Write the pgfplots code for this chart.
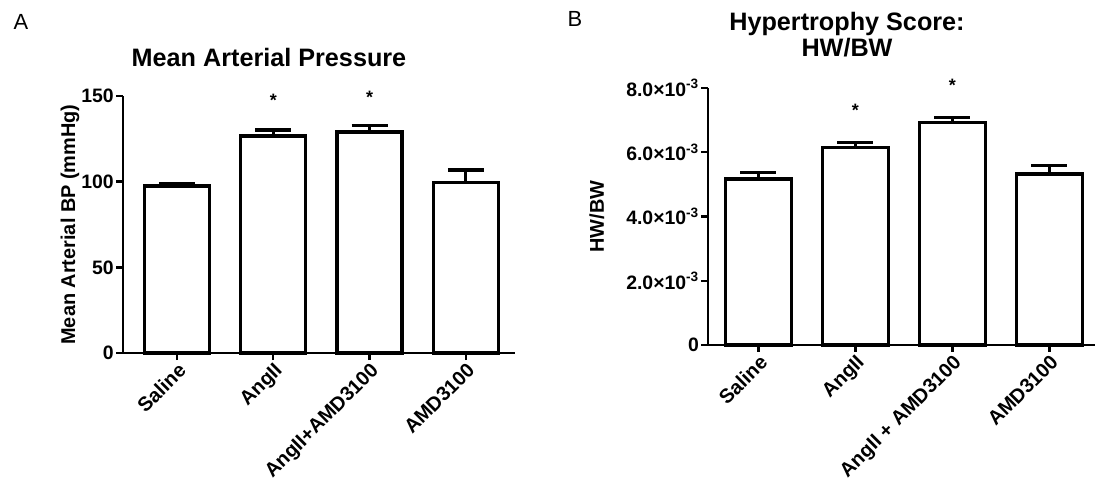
\documentclass[border=0pt]{standalone}
\usepackage{fontspec}
\setmainfont{Liberation Sans}
\usepackage{pgfplots}
\pgfplotsset{compat=1.18}

\pgfplotsset{
  prismbar/.style={
    scale only axis, clip=false,
    axis x line*=bottom, axis y line*=left,
    axis line style={line width=2.6bp, -},
    tick align=outside,
    tick style={line width=2.4bp, black},
    major tick length=7bp,
    xtick={0,1,2,3},
    /pgf/number format/assume math mode=true,
    ticklabel style={font=\fontsize{19.5}{22}\selectfont\bfseries},
    x tick label style={rotate=45, anchor=north east, inner sep=1bp, font=\fontsize{20}{22}\selectfont\bfseries},
    y tick label style={inner sep=2bp},
    ylabel style={font=\fontsize{20}{24}\selectfont\bfseries, anchor=center},
    ybar,
  },
  prismplot/.style={
    fill=white, draw=black, line width=3.2bp,
    error bars/.cd, y dir=plus, y explicit,
    error bar style={line width=3.2bp},
    error mark options={rotate=90, mark size=18bp, line width=3.2bp},
  },
}

\begin{document}
\begin{tikzpicture}
\useasboundingbox (0,0) rectangle (1096bp,493bp);

% panel A
\node[font=\fontsize{22}{24}\selectfont] at (21bp,471bp) {A};
\node[font=\fontsize{25.3}{28}\selectfont\bfseries] at (269bp,436bp) {Mean Arterial Pressure};
\begin{axis}[prismbar,
    at={(123bp,140bp)}, anchor=south west,
    width=392bp, height=257bp,
    xmin=-0.56, xmax=3.51, ymin=0, ymax=150,
    ytick={0,50,100,150},
    xticklabels={Saline, AngII, AngII+AMD3100, AMD3100},
    bar width=65bp,
    ylabel={Mean Arterial BP (mmHg)},
    ylabel style={at={(axis description cs:-0.135,0.5)}},
]
\addplot[prismplot] coordinates {
    (0, 97.5)  +- (0, 1.1)
    (1, 126.7) +- (0, 3.5)
    (2, 129.0) +- (0, 4.0)
    (3, 99.4)  +- (0, 7.4)
};
\node[font=\fontsize{18}{20}\selectfont\bfseries] at (axis cs:1,147.5) {*};
\node[font=\fontsize{18}{20}\selectfont\bfseries] at (axis cs:2,149.3) {*};
\end{axis}

% panel B
\node[font=\fontsize{22}{24}\selectfont] at (575bp,474bp) {B};
\node[font=\fontsize{25.3}{26}\selectfont\bfseries, align=center] at (847bp,458bp) {Hypertrophy Score:\\HW/BW};
\begin{axis}[prismbar,
    at={(708bp,148bp)}, anchor=south west,
    width=387bp, height=257bp,
    xmin=-0.52, xmax=3.47, ymin=0, ymax=0.008,
    scaled y ticks=false,
    ytick={0,0.002,0.004,0.006,0.008},
    yticklabels={0, {2.0×10\textsuperscript{-3}}, {4.0×10\textsuperscript{-3}}, {6.0×10\textsuperscript{-3}}, {8.0×10\textsuperscript{-3}}},
    xticklabels={Saline, AngII, AngII + AMD3100, AMD3100},
    bar width=66bp,
    ylabel={HW/BW},
    ylabel style={at={(axis description cs:-0.287,0.5)}},
]
\addplot[prismplot] coordinates {
    (0, 0.00517) +- (0, 0.00020)
    (1, 0.00615) +- (0, 0.00015)
    (2, 0.00693) +- (0, 0.00014)
    (3, 0.00532) +- (0, 0.00026)
};
\node[font=\fontsize{18}{20}\selectfont\bfseries] at (axis cs:1,0.00732) {*};
\node[font=\fontsize{18}{20}\selectfont\bfseries] at (axis cs:2,0.00807) {*};
\end{axis}
\end{tikzpicture}
\end{document}
